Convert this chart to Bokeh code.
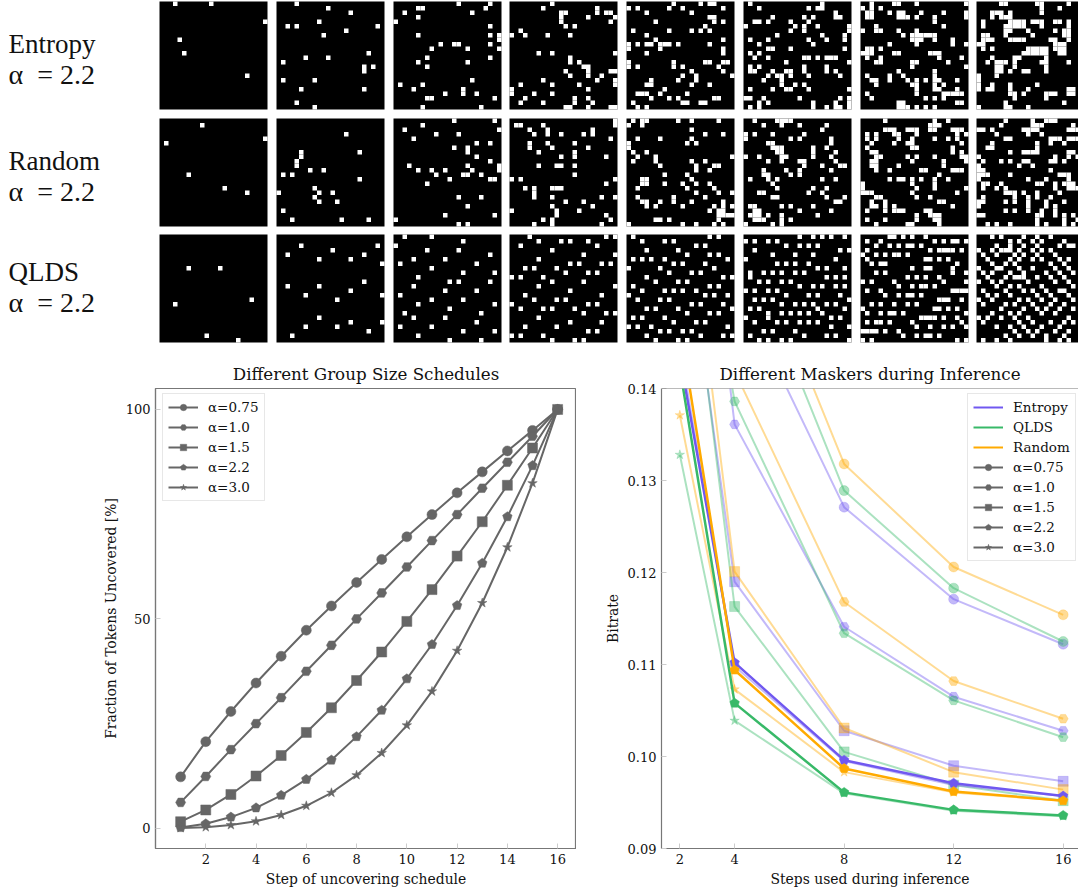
from bokeh.plotting import figure
from bokeh.layouts import column, row
from bokeh.models import FixedTicker, Legend, LegendItem, NumeralTickFormatter, Range1d, Span
from bokeh.core.properties import value
from bokeh.embed import file_html
from bokeh.resources import INLINE
import numpy as np

# ---------- mask panels: "row:col,col row:col" lists of uncovered cells
entropy_masks = [
"0:3,11 4:23 8:4 11:5 16:19",
"0:4 1:11 2:16 4:9 5:2,4,22 6:15 7:10 11:20 12:6,11 13:1 14:19,21 15:19 17:1,8 19:5,19 22:4 23:8",
"0:14,21 1:5,6,20 2:2,17 3:5 4:0 5:21 7:5,21,23 8:23 9:10,13,14,21 10:8,16,23 12:7,21 13:5,16 14:7 17:17 18:1,6 19:4,15 20:11,15,18 21:7,8,22 23:6,19",
"0:9 1:7,19 2:11,12,19,21,22 3:11,17,23 4:11,22 5:12,14 6:2 7:0,3,8,13 11:6,9,23 12:13 13:13,15 14:16,17 15:12,17,22,23 16:13,17,20 17:7,19,23 18:2,9,15,23 19:0,17 20:0,5,9 21:3,14,17 22:2,7,14,18 23:12,13,17,22,23",
"0:10,16,18,19 1:0,2,9,12,21 2:4,14 3:18,19 4:6,19,21 5:17 6:1,9,14,16,18 7:4 8:6,21 9:0,2,4,5,7,8,9,11,18 10:0,7,21 11:4,21 13:0,10,17,18,21,22 14:0,2,10,12,20 15:14,21 16:12,15,23 17:5,11,15 18:4,5,14,18 19:8 20:2,3,4,7,13 21:5,9,11,19,20 22:1,12,13,16,17 23:2,4",
"0:1,17 1:3,14,16,17 2:20 3:6,13,15,20,21 4:2,3,5,10,14 5:0,11,13,16,23 6:10,13,23 7:7,17,22 8:1,5,14,18,22 9:3,15 10:5,6,10,22 11:1,3 12:2,5,13,14,16,18,19,20 13:9,23 14:1,3,13,18 15:1,2,6,9,10,13,18,20 16:5,7,8,10,14,21 17:4,8 18:8,11,13 19:1,6,9,10,14,23 21:0,1,4,12,21,23 22:3,5,15,20,23 23:1,3,15,18,20,21,23",
"0:2,7,8,12,23 1:0,2,4 2:1,2,6,8,9,13,18,23 3:1,2,8,9,10,12,16,23 4:16 5:3,18 6:0,3,4,8,12 7:9,11,12,13,14,15,16 8:11,12,13,16,20 9:6,12,20,23 10:1,2,4 11:0,1,2,7,8,15,16,17 12:1,4,17,22 13:3,4,11,12,19 14:11,23 15:8,16 16:1,6,9,16 17:2,3,6,10,12,14,16,17,21 18:3,11,12,16,18 19:12,16,17,21 20:1,12,18,19,20,21,22 21:2,14,16,18 22:8,9,21,22 23:8,9,10,12,14,16",
"0:5,6,13,14,20 1:14,18 2:3,4,5,7,14 3:3,5,6,7 4:1,7,8,9,10,12,13,14,17,18,20 5:1,6,7,8,9,10,14,20 6:6,7,11,17,19,20 7:1,2,6,12,19,20 8:1,2,3,7,8,9,10,16,17,20 9:0,1,17,18,19 10:1,3,11,12,13,14,15,17,18,19 11:10,11,12,13,14,15,18,19 12:3,8,9,15 13:2,4,5,6,8,14,15,20 14:4,5,8,15 15:4,5,7,10,11,15 16:0,4 17:0 18:0,3,7,13 19:0,2,3,7,11,20,21 20:7,8,10,15,16,17,20,21 21:8,15 22:6,19 23:0,6,7,11",
]
random_masks = [
"1:9 4:23 5:1 12:6 15:14 16:19",
"3:15 7:5,18 8:5 9:4 10:4 11:7,10 12:1,3 13:18 15:8 16:0,9,12 17:8 18:9,13 20:1 22:3,14,20",
"0:13,22 1:6 2:2,23 3:9,14 4:4 5:18,21 6:13,16 7:16 8:18 9:21 10:3,16,23 11:5,8,11,17,23 12:9,15,16,19 13:12,21,22 14:7 17:14,19 19:16 21:11,22 22:0 23:14,16",
"0:23 1:1,2,7,23 2:4,8,18 3:5,8,11,16,18 4:22 5:4,8,14 6:4,9,17 7:6,14 8:11,14,21 10:6,10,11,14 12:14 13:0,2,23 14:21 15:3,5,9,10,11 16:5 17:5,9,20,23 18:12,16 19:9,18 20:0,10,15 21:10,21 22:7,9,22 23:5,9,20",
"0:1,3,4,11,14,20 1:0,3 2:14 3:17,21 4:2,7,14 5:0,13,15 6:0 7:1,4 8:2,6,23 9:1,6,14,17 10:7,15,19,20 11:15,18 12:8,13 13:3,4,14 14:3,4,8,12,15,18 15:2,13,19 16:15,20,23 17:2,10,17 18:3,4,7,10,14,21 19:4,6,12,19,21,23 20:18,20,21 21:20,21,22,23 22:6,7,9,20 23:0,12,15,19,21",
"0:2,7,8,9,10 1:4,8,12,18 2:17 3:0,2,6,13 4:0,10,12,19 5:5,6,19 6:6,7,8,15,18 7:7,8,15,20 8:0,3,8,9,15,19 9:5,8,12,13,20 10:13,17,21,22 11:4,9,12,19 12:4,5,10,12 13:1,5,7,17,20 14:6 15:7,15,18 16:3,4,14,17 17:6,7,18,22 18:20,21 19:1,2,8,10,15 20:2,3,12,19 21:1,2,3,5,8,16 22:2,3,4,8,10 23:0,6,8",
"0:5,16,19 1:15,16,17 2:5,6,7,10,11,12,15,16,20,21,22 3:1,3,7,8,12,21,23 4:1,3,8,11,16,19,21 5:2,7,10,11,22 6:1,11,12,20 7:2,3,20,22 8:3,4,10,12,16,22,23 9:2,3,11,18,23 10:2,3,8,18 11:3,6,13,14,20,21,22 12:17 13:6,8,9,11,13,16,19 14:0,11,16 15:0,12,16,23 16:0,1,2,11,21 17:3,4,12,15 18:2,5,17,18 19:2,3,5,7,20 20:1,5,7,8,9,14,15 21:12,15,16,17 22:1,5,12,16,17 23:3,10,11,17",
"0:6,12,15,16,17 1:5,12,13,14,21 2:0,1,3,10,11,12,13,20,21,22 3:4,11,14 4:6,7,16,17,18,20,21,22 5:3,13,16,19 6:2,3,13 7:7,10,11,12,13,20,21 8:0,17,20,22 9:1,5,7,10,11,16,17,19 10:0,9,12 11:0,1,16 12:0,1,2,7,18,19,20 13:0,11,15,20 14:1,2,5,13,14,17,19,20,21 15:1,4,6,17,20,21,22 16:6,7,8,10,13,18 17:1,8,11,13,16 18:0,1,6,8,11,15,19 19:0,11,15,17 20:6,8,11,14,17 21:0,1,13,14,17,19,21 22:13,19,22 23:2,4,7,13,15,19,21",
]
qlds_masks = [
"7:6,13 14:20 15:3 22:10 23:17",
"2:5,22 3:12 4:2,19 5:9,16 6:23 10:19 11:2,9 12:16 13:6,23 14:13 18:9 19:16,23 20:6,13 21:20 22:3",
"0:2,8 1:15 2:0 3:7,14 4:21 5:4,11 6:1,18 7:8 8:15,22 9:5 10:12,14,21 11:4 12:11,18 13:1 14:8,15 15:5,22 16:12 17:2,19 18:4,11 19:18 20:1,8 21:15,22 22:5 23:12,19",
"0:4,21,23 1:6,11,13,17 2:2,19 3:9 4:16,23 5:6 6:13,15,20,22 7:3,5,10 8:12,17,19 9:0,2,7 10:9,16 11:6,23 12:13 13:3,20 14:5,10,12 15:0,17,19 16:2,7,9,14 17:16,21,23 18:6 19:13,20 20:3,10 21:17,19 22:0,2,7 23:9,14,16",
"0:1,18,20 1:3,8,10 2:15,17 3:4,11 4:13,18,20 5:1,3,5,8,22 6:10,12,17 7:0,7,19 8:9,14,16 9:4,21,23 10:6,11,13 11:1,18,20 12:3,8,10,12,15 13:0,17,19,22 14:2,7,9 15:14,16,21 16:4,6,11,23 17:13,18,20 18:1,3,8 19:10,15,17 20:0,2,5,22 21:7,9,12,14 22:4,16,21,23 23:6,11,13",
"0:12,15,17,19,22 1:0,2,5,7 2:9,12,14,16 3:2,21,23 4:6,11,15 5:0,20 6:7,9,11,14 7:16,18,22 8:1,4,6,8,11,13 9:1,18,20,22 10:3,5,8,10 11:12,15,17,20,22 12:0,2,5,7 13:9,14,16,21 14:2,4,6,23 15:8,11,13,15,18,20 16:1,3,16,22 17:5,8,10,12,14,17 18:0,5,19,21 19:2,7,9,12,14,16 20:19,23 21:4,6,11 22:1,13,18,20 23:3,5,8,10,23",
"0:6,7,9,11,14 1:1,4,16,18,20,21,23 2:3,6,8,10,11,13 3:1,15,17,18,19,20,22 4:0,3,5,7,8,10 5:1,14,15,17,19 6:2,4,5,21 7:11,14,15,20 8:3,5,20,23 9:10,12,14,17 10:0,2,7,18,23 11:8,11,13,14,16 12:1,4,20,21,22,23 13:5,8,10,11,13 14:17,18,19,22 15:2,4,7,10,12 16:0,16,17,19,21 17:1,4,6,7,9,23 18:13,14,15,16,18,21 19:1,3,4,6,11,22 20:12,15,18,20,23 21:0,1,2,3,5,8 22:9,12,14,15,17 23:0,2,21,23",
"0:3,5,10,13,16 1:7,9,12,14,19 2:4,7,10,13,18,20,21 3:0,3,5,6,7,9,12,14,16 4:1,4,8,10,13,17 5:2,7,9,12,14,18,20 6:3,6,8,16,19 7:0,4,5,9,12,17,20 8:1,3,7,10,15,18,21 9:2,6,8,9,10,13,16,19 10:0,3,5,11,17,20 11:4,7,9,14,21 12:1,6,10,12,15,18,19 13:2,4,7,13,16,20 14:0,3,9,11,14,17,21 15:1,6,8,12,16,19 16:5,10,13,15,18,21 17:3,7,9,14,17 18:0,2,5,8,11,20 19:1,9,12,16,19,21 20:4,7,10,14,18 21:8,11,13,17,20 22:6,9,12,15,19 23:1,4,7,15,18,20",
]
panel_rows = ["Entropy", "Random", "QLDS"]
panel_alpha = ["α\u2002= 2.2", "α\u2002= 2.2", "α\u2002= 2.2"]

# ---------- left chart
steps = [1, 2, 3, 4, 5, 6, 7, 8, 9, 10, 11, 12, 13, 14, 15, 16]
frac_075 = [12.3, 20.7, 27.9, 34.7, 41.1, 47.3, 53.1, 58.7, 64.2, 69.6, 74.9, 80.1, 85.1, 90.1, 95.0, 100]
frac_100 = [6.2, 12.4, 18.8, 25.0, 31.2, 37.5, 43.7, 50.0, 56.2, 62.4, 68.7, 74.9, 81.2, 87.4, 93.6, 100]
frac_150 = [1.6, 4.4, 8.1, 12.5, 17.4, 22.9, 28.8, 35.3, 42.1, 49.4, 57.0, 65.0, 73.2, 81.9, 90.8, 100]
frac_220 = [0.2, 1.1, 2.7, 4.9, 7.9, 11.7, 16.3, 21.9, 28.2, 35.7, 43.9, 53.2, 63.3, 74.4, 86.6, 100]
frac_300 = [0.1, 0.3, 0.8, 1.7, 3.2, 5.4, 8.5, 12.7, 18.0, 24.6, 32.7, 42.4, 53.8, 67.1, 82.4, 100]
alpha_labels = ["α=0.75", "α=1.0", "α=1.5", "α=2.2", "α=3.0"]

# ---------- right chart
infer_steps = [2, 4, 8, 12, 16]
entropy_075 = [0.250, 0.1518, 0.1271, 0.1171, 0.1122]
entropy_100 = [0.1857, 0.1361, 0.1141, 0.1065, 0.1028]
entropy_150 = [0.1618, 0.1190, 0.1028, 0.0990, 0.0973]
entropy_220 = [0.1434, 0.1102, 0.0996, 0.0971, 0.0957]
entropy_300 = [0.1445, 0.1098, 0.0995, 0.0969, 0.0957]
qlds_075 = [0.255, 0.1585, 0.1289, 0.1183, 0.1125]
qlds_100 = [0.1730, 0.1386, 0.1134, 0.1061, 0.1021]
qlds_150 = [0.1646, 0.1163, 0.1005, 0.0969, 0.0952]
qlds_220 = [0.1422, 0.1058, 0.0961, 0.0942, 0.0936]
qlds_300 = [0.1328, 0.1039, 0.0960, 0.0941, 0.0935]
random_075 = [0.260, 0.1612, 0.1318, 0.1206, 0.1154]
random_100 = [0.2000, 0.1419, 0.1168, 0.1082, 0.1041]
random_150 = [0.1683, 0.1201, 0.1031, 0.0983, 0.0964]
random_220 = [0.1468, 0.1094, 0.0987, 0.0962, 0.0952]
random_300 = [0.1371, 0.1073, 0.0983, 0.0961, 0.0952]
masker_labels = ["Entropy", "QLDS", "Random"]

# ---------- styles
SERIF = "DejaVu Serif"
GREY = "#666666"
SPINE = "#777777"
TICK = "#cccccc"
PURPLE, GREEN, ORANGE = "#7058f0", "#38b968", "#ffaa00"
PANEL_X = [159, 276, 393, 509, 626, 743, 860, 976]
PANEL_Y = [1, 118, 234]
NAME_Y = [43, 160, 271]
ALPHA_Y = [74, 191, 302]
CELL = 4.5
SIDE = 24 * CELL
TOP_H = 356


def parse(mask):
    rows, cols = [], []
    for part in mask.split():
        r, cs = part.split(":")
        for c in cs.split(","):
            rows.append(int(r))
            cols.append(int(c))
    return np.array(rows), np.array(cols)


# ---------- top strip
top = figure(width=1078, height=TOP_H, x_range=(0, 1078), y_range=(TOP_H, 0), x_axis_type=None, y_axis_type=None,
             toolbar_location=None, output_backend="svg", outline_line_color=None, min_border=0)
top.grid.visible = False
for j, masks in enumerate([entropy_masks, random_masks, qlds_masks]):
    y0 = PANEL_Y[j]
    for i, mask in enumerate(masks):
        x0 = PANEL_X[i]
        top.quad(left=[x0], right=[x0 + SIDE], top=[y0], bottom=[y0 + SIDE], fill_color="black", line_color=None)
        r, c = parse(mask)
        top.quad(left=x0 + c * CELL, right=x0 + (c + 1) * CELL, top=y0 + r * CELL, bottom=y0 + (r + 1) * CELL,
                 fill_color="white", line_color=None)
    top.text(x=[8], y=[NAME_Y[j]], text=[panel_rows[j]], text_font=value("Liberation Serif"), text_font_size="27px",
             text_baseline="middle", text_color="#111111")
    top.text(x=[8], y=[ALPHA_Y[j]], text=[panel_alpha[j]], text_font=value("Liberation Serif"), text_font_size="28px",
             text_baseline="middle", text_color="#111111")


def style(p):
    p.grid.visible = False
    p.title.text_font = SERIF
    p.title.text_font_size = "16.7px"
    p.title.text_font_style = "normal"
    p.title.text_color = "#111111"
    p.title.align = "center"
    for ax in p.xaxis + p.yaxis:
        ax.axis_line_color = SPINE
        ax.axis_line_width = 1.2
        ax.major_tick_line_color = TICK
        ax.major_tick_in = 5
        ax.major_tick_out = 0
        ax.minor_tick_line_color = None
        ax.major_label_text_font = SERIF
        ax.major_label_text_font_size = "13px"
        ax.major_label_text_color = "#111111"
        ax.axis_label_text_font = SERIF
        ax.axis_label_text_font_size = "13.9px"
        ax.axis_label_text_font_style = "normal"
        ax.axis_label_text_color = "#111111"
        ax.axis_label_standoff = 4


def marker(p, idx, x, y, color, alpha):
    """Draw one alpha's markers: circle, hexagon, square, pentagon, star."""
    kw = dict(x=x, y=y, fill_color=color, line_color=color, fill_alpha=alpha, line_alpha=alpha)
    if idx == 0:
        return p.scatter(marker="circle", size=10, line_width=0.5, **kw)
    if idx == 1:
        return p.ngon(radius=5, radius_units="screen", n=6, angle=np.pi / 6, line_width=0.5, **kw)
    if idx == 2:
        return p.scatter(marker="square", size=10, line_width=0.5, **kw)
    if idx == 3:
        return p.ngon(radius=5, radius_units="screen", n=5, line_width=0.5, **kw)
    return p.scatter(marker="star", size=10, line_width=0.5, **kw)


def legend(p, items, loc):
    lg = Legend(items=items, location=loc, orientation="vertical", label_text_font=SERIF, label_text_font_size="13.5px",
                label_text_color="#111111", glyph_width=30, glyph_height=16, label_height=16, label_standoff=10,
                spacing=4, padding=5, margin=0, border_line_color="#d0d0d0", border_line_width=1,
                background_fill_alpha=0.85)
    p.add_layout(lg, "center")


# ---------- left chart
left = figure(width=576, height=532, frame_width=421, frame_height=460, x_range=Range1d(0, 16.75),
              y_range=Range1d(-4.8, 105.0), min_border_left=155, min_border_right=0, min_border_top=29,
              min_border_bottom=39, title="Different Group Size Schedules", toolbar_location=None,
              output_backend="svg", x_axis_label="Step of uncovering schedule",
              y_axis_label="Fraction of Tokens Uncovered [%]")
style(left)
left.outline_line_color = SPINE
left.outline_line_width = 1.2
left.xaxis.ticker = FixedTicker(ticks=[2, 4, 6, 8, 10, 12, 14, 16])
left.yaxis.ticker = FixedTicker(ticks=[0, 50, 100])
left_items = []
for k, vals in enumerate([frac_075, frac_100, frac_150, frac_220, frac_300]):
    ln = left.line(steps, vals, line_color=GREY, line_width=2)
    mk = marker(left, k, steps, vals, GREY, 1.0)
    left_items.append(LegendItem(label=alpha_labels[k], renderers=[ln, mk]))
legend(left, left_items, (7, 347))

# ---------- right chart
right = figure(width=502, height=532, frame_width=417, frame_height=460, x_range=Range1d(1.33, 16.56),
               y_range=Range1d(0.09, 0.14), min_border_left=85, min_border_right=0, min_border_top=29,
               min_border_bottom=39, title="Different Maskers during Inference", toolbar_location=None,
               output_backend="svg", x_axis_label="Steps used during inference", y_axis_label="Bitrate",
               outline_line_color=None)
style(right)
right.add_layout(Span(location=0.14, dimension="width", line_color=SPINE, line_width=1.2))
right.xaxis.ticker = FixedTicker(ticks=infer_steps)
right.yaxis.ticker = FixedTicker(ticks=[0.09, 0.10, 0.11, 0.12, 0.13, 0.14])
right.yaxis.formatter = NumeralTickFormatter(format="0.00")

series = [
    (PURPLE, [entropy_075, entropy_100, entropy_150, entropy_220, entropy_300]),
    (GREEN, [qlds_075, qlds_100, qlds_150, qlds_220, qlds_300]),
    (ORANGE, [random_075, random_100, random_150, random_220, random_300]),
]
for k in [0, 1, 2, 4, 3]:
    for color, vals in series:
        a = 1.0 if k == 3 else 0.42
        right.line(infer_steps, vals[k], line_color=color, line_alpha=a, line_width=2.5 if k == 3 else 2)
        marker(right, k, infer_steps, vals[k], color, a)

# legend keys: proxies placed outside the visible range
KEY_X, KEY_Y = [-10], [-10]
right_items = []
for lab, (color, _) in zip(masker_labels, series):
    ln = right.line(KEY_X, KEY_Y, line_color=color, line_width=2)
    right_items.append(LegendItem(label=lab, renderers=[ln]))
for k, lab in enumerate(alpha_labels):
    ln = right.line(KEY_X, KEY_Y, line_color=GREY, line_width=2)
    mk = marker(right, k, KEY_X, KEY_Y, GREY, 1.0)
    right_items.append(LegendItem(label=lab, renderers=[ln, mk]))
legend(right, right_items, (306, 287))

page = column(top, row(left, right, spacing=0), spacing=0)
open("out.html", "w").write(file_html(page, INLINE))
